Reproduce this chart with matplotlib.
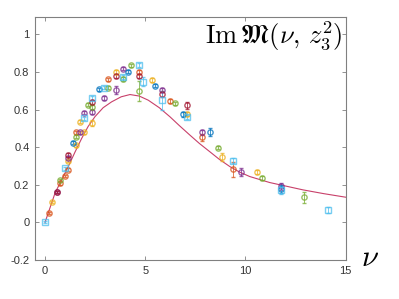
import matplotlib
matplotlib.use("Agg")
import matplotlib.pyplot as plt

plt.rcParams['mathtext.fontset'] = 'cm'
plt.rcParams['font.family'] = ['Liberation Sans', 'DejaVu Sans']

# model curve
curve_x = [0, 0.5, 1.16, 1.5, 1.83, 2.15, 2.49, 2.9, 3.32, 3.8, 4.24, 4.7, 5.15,
           5.7, 6.23, 6.7, 7.22, 7.7, 8.22, 8.7, 9.22, 9.7, 10.21, 11.21, 12.87, 13.9, 15]
curve_y = [0, 0.156, 0.297, 0.375, 0.447, 0.51, 0.562, 0.61, 0.641, 0.668, 0.680, 0.672, 0.650,
           0.61, 0.562, 0.515, 0.465, 0.42, 0.376, 0.335, 0.297, 0.268, 0.244, 0.212, 0.173, 0.153, 0.134]

# lattice points, one list per colour
lblue_x = [0, 1.0, 1.96, 2.34, 2.96, 3.9, 4.7, 4.9, 5.86, 7.06, 9.39, 11.76, 14.12]
lblue_y = [0, 0.288, 0.555, 0.663, 0.716, 0.772, 0.836, 0.749, 0.65, 0.562, 0.329, 0.173, 0.067]
lblue_e = [0.005, 0.008, 0.008, 0.01, 0.008, 0.012, 0.01, 0.022, 0.05, 0.01, 0.015, 0.02, 0.015]

orange_x = [0.22, 0.76, 1.0, 1.16, 1.56, 3.12, 4.7, 6.26, 7.82, 9.39]
orange_y = [0.05, 0.207, 0.247, 0.28, 0.48, 0.761, 0.799, 0.645, 0.452, 0.283]
orange_e = [0.004, 0.006, 0.006, 0.008, 0.008, 0.008, 0.01, 0.01, 0.02, 0.04]

yellow_x = [0.37, 1.16, 1.56, 1.74, 1.96, 2.34, 3.52, 5.32, 7.06, 8.82, 10.56]
yellow_y = [0.108, 0.325, 0.41, 0.534, 0.48, 0.528, 0.799, 0.758, 0.576, 0.348, 0.267]
yellow_e = [0.005, 0.006, 0.008, 0.008, 0.008, 0.015, 0.01, 0.01, 0.012, 0.02, 0.01]

purple_x = [0.6, 1.16, 1.76, 1.96, 2.34, 2.94, 3.52, 3.9, 5.86, 7.82, 9.78, 11.76]
purple_y = [0.163, 0.345, 0.48, 0.583, 0.587, 0.663, 0.703, 0.818, 0.703, 0.479, 0.269, 0.191]
purple_e = [0.006, 0.008, 0.008, 0.008, 0.01, 0.01, 0.02, 0.01, 0.01, 0.012, 0.02, 0.02]

green_x = [0.76, 1.56, 2.16, 2.34, 3.12, 3.9, 4.3, 4.7, 6.48, 8.64, 10.8, 12.92]
green_y = [0.226, 0.456, 0.625, 0.613, 0.716, 0.763, 0.837, 0.698, 0.633, 0.396, 0.237, 0.134]
green_e = [0.006, 0.008, 0.008, 0.01, 0.008, 0.01, 0.008, 0.055, 0.008, 0.008, 0.012, 0.03]

blue_x = [1.38, 2.71, 4.12, 5.48, 6.88, 8.22, 11.76]
blue_y = [0.424, 0.708, 0.802, 0.728, 0.574, 0.48, 0.178]
blue_e = [0.008, 0.008, 0.008, 0.01, 0.015, 0.02, 0.02]

dred_x = [0.6, 1.16, 2.34, 3.52, 4.7, 5.86, 7.06]
dred_y = [0.16, 0.357, 0.64, 0.777, 0.777, 0.682, 0.622]
dred_e = [0.006, 0.01, 0.012, 0.01, 0.01, 0.015, 0.02]

series = [
    (orange_x, orange_y, orange_e, '#D95319', 'o'),
    (yellow_x, yellow_y, yellow_e, '#EDB120', 'o'),
    (purple_x, purple_y, purple_e, '#7E2F8E', 'o'),
    (green_x, green_y, green_e, '#77AC30', 'o'),
    (blue_x, blue_y, blue_e, '#0072BD', 'o'),
    (dred_x, dred_y, dred_e, '#A2142F', 'o'),
    (lblue_x, lblue_y, lblue_e, '#4DBEEE', 's'),
]

fig = plt.figure(figsize=(3.99, 2.99), dpi=100)
ax = fig.add_axes([0.0877, 0.1304, 0.7787, 0.8144])

for x, y, e, c, m in series:
    ax.errorbar(x, y, yerr=e, fmt=m, color=c, mfc='none', mec=c, ms=3.8, mew=1,
                elinewidth=0.7, capsize=1.5, capthick=0.7, alpha=0.75, zorder=3)

ax.plot(curve_x, curve_y, color='#C8406A', lw=0.8, zorder=2)

ax.set_xlim(-0.5, 15)
ax.set_ylim(-0.2, 1.095)
ax.set_xticks([0, 5, 10, 15])
ax.set_yticks([-0.2, 0, 0.2, 0.4, 0.6, 0.8, 1.0])
ax.set_yticklabels(['-0.2', '0', '0.2', '0.4', '0.6', '0.8', '1'])
ax.tick_params(direction='in', top=True, right=True, length=3, width=0.6,
               color='#808080', labelsize=8, labelcolor='#333333', pad=4)
for s in ax.spines.values():
    s.set_color('#808080')
    s.set_linewidth(0.8)

ax.text(0.99, 0.985, r'$\mathrm{Im}\,\mathfrak{M}(\nu,\, z_3^2)$', transform=ax.transAxes,
        ha='right', va='top', fontsize=19)
fig.text(370 / 399, 1 - 258 / 299, r'$\nu$', ha='center', va='center', fontsize=22)

fig.savefig('out.png', dpi=100)
